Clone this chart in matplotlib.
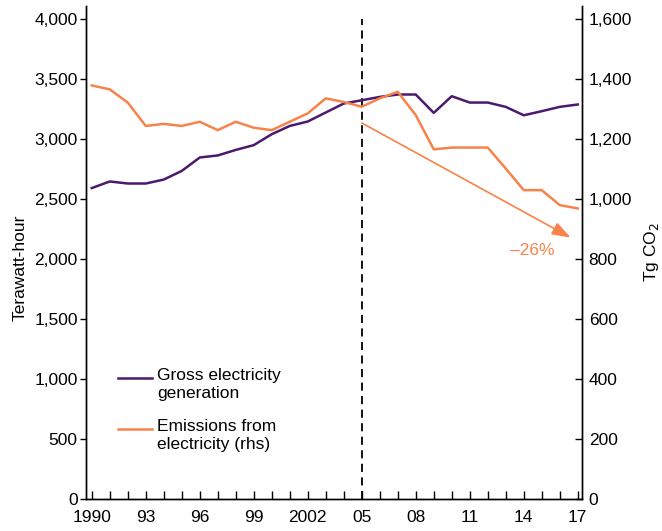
import numpy as np
import matplotlib
matplotlib.use("Agg")
import matplotlib.pyplot as plt

plt.rcParams.update({
    "font.family": ["Liberation Sans", "DejaVu Sans"],
    "font.size": 12.5,
})

# ── Data ───────────────────────────────────────────────────────────────────
years = np.arange(1990, 2018)
generation = [2590, 2645, 2628, 2628, 2661, 2733, 2845, 2862, 2908, 2948,
              3039, 3108, 3145, 3220, 3295, 3322, 3350, 3370, 3370, 3217,
              3356, 3303, 3303, 3267, 3197, 3231, 3267, 3287]
emissions = [1378, 1365, 1321, 1243, 1250, 1243, 1257, 1229, 1257, 1237,
             1229, 1257, 1285, 1335, 1323, 1307, 1335, 1357, 1279, 1165,
             1171, 1171, 1171, 1101, 1029, 1029, 979, 968]
xtick_years = [1990, 1993, 1996, 1999, 2002, 2005, 2008, 2011, 2014, 2017]
xtick_labels = ["1990", "93", "96", "99", "2002", "05", "08", "11", "14", "17"]
left_ticks = [0, 500, 1000, 1500, 2000, 2500, 3000, 3500, 4000]
right_ticks = [0, 200, 400, 600, 800, 1000, 1200, 1400, 1600]
arrow_start = (2005, 1253)
arrow_end = (2016.6, 871)
arrow_label = "\u201326%"

C_GEN = "#4b1a6e"
C_EMI = "#f7834a"

fig = plt.figure(figsize=(6.62, 5.31), dpi=100)
ax = fig.add_axes([0.1299, 0.0608, 0.7488, 0.9279])
ax2 = ax.twinx()

ax.plot(years, generation, color=C_GEN, lw=1.8, zorder=3)
ax2.plot(years, emissions, color=C_EMI, lw=1.8, zorder=3)

ax.set_xlim(1989.68, 2017.22)
ax.set_ylim(0, 4108)
ax2.set_ylim(0, 1643)

# vertical dashed marker at 2005
ax.plot([2005, 2005], [0, 4000], color="black", lw=1.3, ls=(0, (4.5, 3)), zorder=2)

# trend arrow
ax2.annotate("", xy=arrow_end, xytext=arrow_start,
             arrowprops=dict(arrowstyle="-|>,head_length=0.9,head_width=0.32",
                             color=C_EMI, lw=1.2, shrinkA=0, shrinkB=0))
ax2.text(2014.5, 829, arrow_label, color=C_EMI, ha="center", va="center",
         fontsize=12.5)

# axes styling
for a in (ax, ax2):
    a.spines["top"].set_visible(False)
    a.spines["left"].set_linewidth(1.0)
    a.spines["right"].set_linewidth(1.0)
    a.spines["bottom"].set_linewidth(1.0)

ax.set_xticks(years, minor=True)
ax.set_xticks(xtick_years)
ax.set_xticklabels(xtick_labels)
ax.tick_params(axis="x", which="both", direction="in", length=6, width=1.0, pad=8)
ax.tick_params(axis="y", direction="out", length=4, width=1.0, pad=2)
ax.set_yticks(left_ticks)
ax.set_yticklabels([f"{v:,}" for v in left_ticks])

ax2.set_yticks(right_ticks)
ax2.set_yticklabels([f"{v:,}" for v in right_ticks])
ax2.tick_params(axis="y", direction="in", length=5, width=1.0, pad=5)

fig.text(0.03, 0.495, "Terawatt-hour", rotation=90, ha="center", va="center",
         fontsize=12.5)
fig.text(0.984, 0.525, "Tg CO$_2$", rotation=90, ha="center", va="center",
         fontsize=12.5)

# legend drawn by hand
tr = ax.transAxes
def ax_xy(px, py):
    # figure pixel -> axes fraction
    return ((px - 86) / (581.7 - 86), (498.7 - py) / (498.7 - 6))

for py, col, lines in [(378, C_GEN, "Gross electricity\ngeneration"),
                       (429, C_EMI, "Emissions from\nelectricity (rhs)")]:
    x0, y0 = ax_xy(118, py)
    x1, _ = ax_xy(152, py)
    ax.plot([x0, x1], [y0, y0], color=col, lw=1.8, transform=tr, clip_on=False)
    tx, _ = ax_xy(157, py)
    _, ty = ax_xy(157, py - 10)
    ax.text(tx, ty, lines, transform=tr, ha="left", va="top",
            fontsize=12.5, linespacing=1.25)

fig.savefig("out.png", dpi=100)
